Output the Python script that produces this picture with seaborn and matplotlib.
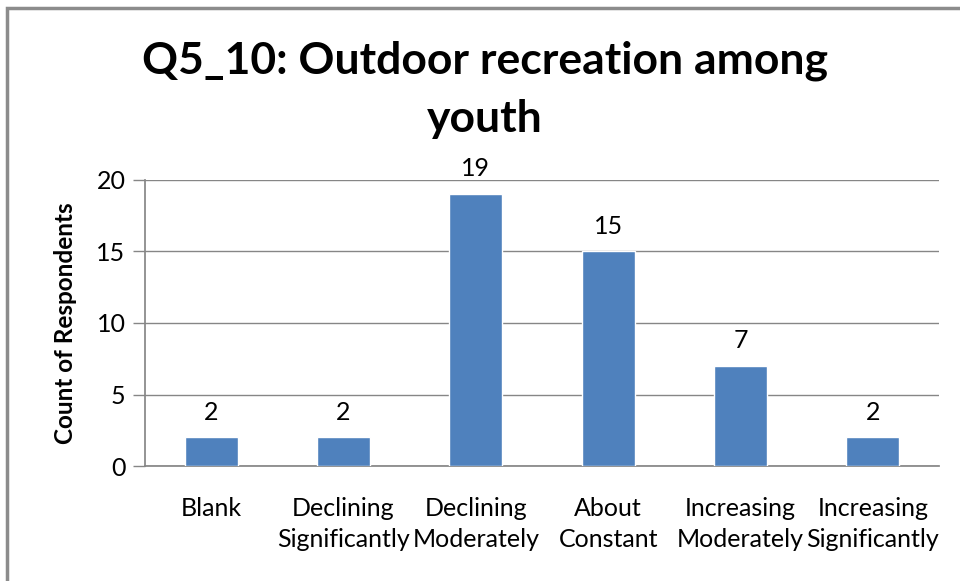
import matplotlib
matplotlib.use("Agg")
import matplotlib.pyplot as plt
import seaborn as sns
import pandas as pd
from matplotlib.patches import Rectangle

categories = ["Blank", "Declining\nSignificantly", "Declining\nModerately", "About\nConstant",
              "Increasing\nModerately", "Increasing\nSignificantly"]
counts = [2, 2, 19, 15, 7, 2]
yticks = [0, 5, 10, 15, 20]
title = "Q5_10: Outdoor recreation among\nyouth"
ylabel = "Count of Respondents"

sns.set_theme(style="white")
plt.rcParams['font.family'] = ['Lato', 'DejaVu Sans']
plt.rcParams['text.color'] = '#000000'

df = pd.DataFrame({"cat": categories, "n": counts})

fig = plt.figure(figsize=(9.6, 5.81), dpi=100)
W, H = 960, 581
ax = fig.add_axes([145 / W, 1 - 466 / H, (939 - 145) / W, (466 - 180) / H])

sns.barplot(data=df, x="cat", y="n", color="#4F81BD", width=0.4, saturation=1, ax=ax, zorder=3)

ax.set_ylim(0, 20)
ax.set_yticks(yticks)
ax.set_xlim(-0.5, len(categories) - 0.5)
ax.yaxis.grid(True, color="#868686", linewidth=1)
ax.set_axisbelow(True)
for s in ["top", "right"]:
    ax.spines[s].set_visible(False)
ax.spines["left"].set_color("#868686")
ax.spines["bottom"].set_color("#868686")
ax.tick_params(axis="y", which="major", length=9, width=1, color="#868686", left=True,
               labelsize=18, labelcolor="#000000", pad=5)
ax.tick_params(axis="x", length=0, labelsize=18, labelcolor="#000000", pad=22)
for lab in ax.get_xticklabels():
    lab.set_linespacing(1.45)
ax.set_xlabel("")
ax.set_ylabel(ylabel, fontsize=17.5, fontweight="bold", labelpad=14, color="#000000")

for c in ax.containers:
    ax.bar_label(c, labels=[str(v) for v in counts], fontsize=18, padding=10, color="#000000")

fig.text(485 / W, 1 - 90 / H, title, ha="center", va="center", fontsize=32,
         fontweight="bold", linespacing=1.55, color="#000000")

fig.add_artist(Rectangle((7 / W, -0.1), 1.2, 1 - 8 / H + 0.1, transform=fig.transFigure,
                         fill=False, edgecolor="#8C8C8C", linewidth=2.5))

fig.savefig("out.png", dpi=100)
